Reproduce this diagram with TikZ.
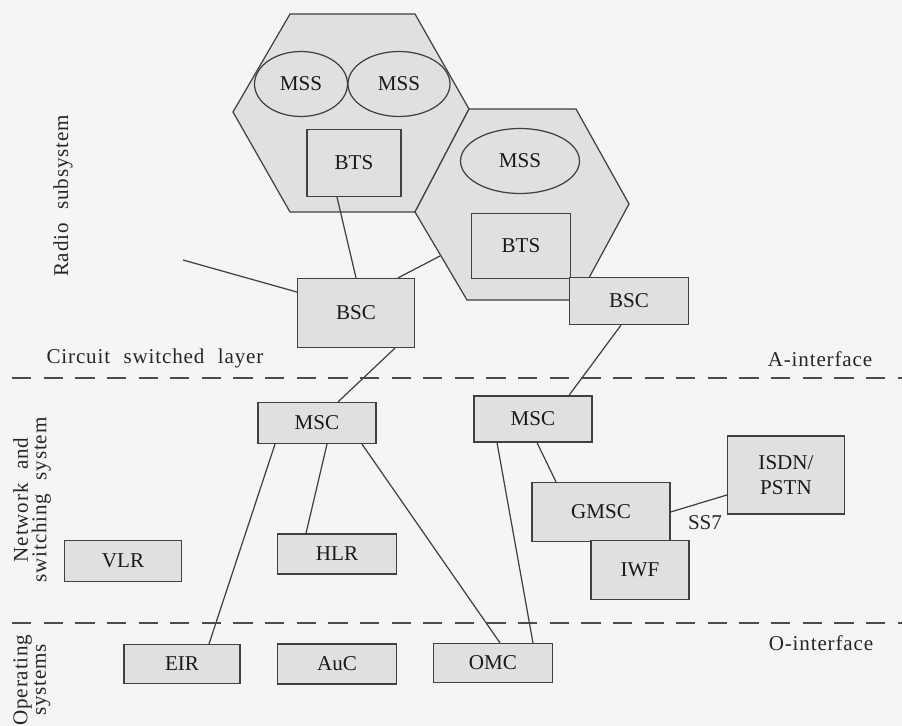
\documentclass[tikz,border=0pt]{standalone}
\usepackage{fontspec}
\setmainfont{Liberation Serif}
\newfontfamily\spacedfont[LetterSpace=4,WordSpace=2.2]{Liberation Serif}
\usetikzlibrary{shapes.geometric}

\begin{document}
\begin{tikzpicture}[x=0.02cm,y=-0.02cm,line width=0.7pt,
    font=\fontsize{12}{14}\selectfont,
    unit/.style={rectangle,draw=black!75,fill=black!12,inner sep=0pt,text=black!90},
    mss/.style={ellipse,draw=black!75,fill=black!12,inner sep=0pt,text=black!90},
    cell/.style={draw=black!75,fill=black!12},
    layer/.style={draw=black!70,dash pattern=on 11pt off 7pt},
    side/.style={rotate=90,align=center,text=black!85,font=\spacedfont\fontsize{12}{10.5}\selectfont},
    tag/.style={text=black!85,font=\spacedfont\fontsize{12}{14}\selectfont}]
\fill[black!4] (0,0) rectangle (902,726);
\useasboundingbox (0,0) rectangle (902,726);
\filldraw[cell] (290,14) -- (415,14) -- (469,109) -- (415,212) -- (290,212) -- (233,112) -- cycle;
\filldraw[cell] (469,109) -- (576,109) -- (629,204) -- (577,300) -- (467,300) -- (415,212) -- cycle;
\node[mss,minimum width=1.86cm,minimum height=1.3cm] (mss1) at (301,84) {MSS};
\node[mss,minimum width=2.04cm,minimum height=1.3cm] (mss2) at (399,84) {MSS};
\node[mss,minimum width=2.38cm,minimum height=1.3cm] (mss3) at (520,161) {MSS};
\node[unit,minimum width=1.88cm,minimum height=1.34cm] (bts1) at (354,163) {BTS};
\node[unit,minimum width=1.98cm,minimum height=1.3cm] (bts2) at (521,246) {BTS};
\node[unit,minimum width=2.34cm,minimum height=1.38cm] (bsc1) at (356,313) {BSC};
\node[unit,minimum width=2.38cm,minimum height=0.94cm] (bsc2) at (629,301) {BSC};
\node[unit,minimum width=2.36cm,minimum height=0.82cm] (msc1) at (317,423) {MSC};
\node[unit,minimum width=2.36cm,minimum height=0.92cm] (msc2) at (533,419) {MSC};
\node[unit,minimum width=2.34cm,minimum height=0.82cm] (vlr) at (123,561) {VLR};
\node[unit,minimum width=2.38cm,minimum height=0.8cm] (hlr) at (337,554) {HLR};
\node[unit,minimum width=2.76cm,minimum height=1.18cm] (gmsc) at (601,512) {GMSC};
\node[unit,minimum width=1.96cm,minimum height=1.18cm] (iwf) at (640,570) {IWF};
\node[unit,minimum width=2.34cm,minimum height=1.56cm,align=center] (isdn) at (786,475) {ISDN/\\PSTN};
\node[unit,minimum width=2.32cm,minimum height=0.78cm] (eir) at (182,664) {EIR};
\node[unit,minimum width=2.38cm,minimum height=0.8cm] (auc) at (337,664) {AuC};
\node[unit,minimum width=2.38cm,minimum height=0.78cm] (omc) at (493,663) {OMC};
\coordinate (tail) at (183,260);
\coordinate (edge) at (440,256);
\draw[black!75] ([xshift=-0.34cm]bts1.south) -- (bsc1.north);
\draw[black!75] (tail) -- ([yshift=0.42cm]bsc1.west);
\draw[black!75] ([xshift=0.84cm]bsc1.north) -- (edge);
\draw[black!75] ([xshift=-0.16cm]bsc2.south) -- ([xshift=0.72cm]msc2.north);
\draw[black!75] ([xshift=0.78cm]bsc1.south) -- ([xshift=0.42cm]msc1.north);
\draw[black!75] ([xshift=-0.84cm]msc1.south) -- ([xshift=0.54cm]eir.north);
\draw[black!75] ([xshift=0.2cm]msc1.south) -- ([xshift=-0.62cm]hlr.north);
\draw[black!75] ([xshift=0.9cm]msc1.south) -- ([xshift=0.14cm]omc.north);
\draw[black!75] ([xshift=-0.72cm]msc2.south) -- ([xshift=0.8cm]omc.north);
\draw[black!75] ([xshift=0.08cm]msc2.south) -- ([xshift=-0.9cm]gmsc.north);
\draw[black!75] (gmsc.east) -- ([yshift=-0.4cm]isdn.west);
\node[text=black!85] (ss7) at (705,523) {SS7};
\draw[layer] (12,378) -- (902,378);
\draw[layer] (12,623) -- (902,623);
\node[tag] (circuit) at (155,358) {Circuit switched layer};
\node[tag] (aif) at (820,359) {A-interface};
\node[tag] (oif) at (821,643) {O-interface};
\node[side] (radio) at (63,196) {Radio subsystem};
\node[side] (network) at (32,500) {Network and\\switching system};
\node[side] (operating) at (32,680) {Operating\\systems};
\end{tikzpicture}
\end{document}
